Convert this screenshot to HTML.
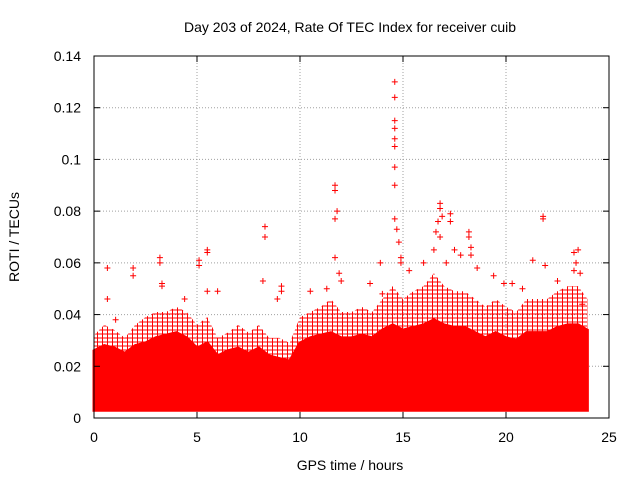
<!DOCTYPE html>
<html><head><meta charset="utf-8"><style>
body{margin:0;background:#fff;}
svg{display:block;font-family:"Liberation Sans",sans-serif;}
</style></head><body>
<svg id="chart" width="640" height="480">
<defs>
<pattern id="plus" width="5" height="4" patternUnits="userSpaceOnUse">
<path d="M0,2H5M2.5,0V4" stroke="#ff0000" stroke-width="1"/>
</pattern>
</defs>
<text x="350" y="32" font-size="14" text-anchor="middle">Day 203 of 2024, Rate Of TEC Index for receiver cuib</text>
<text x="350" y="470" font-size="14" text-anchor="middle">GPS time / hours</text>
<text x="19" y="237" font-size="14" text-anchor="middle" transform="rotate(-90 19 237)">ROTI / TECUs</text>
<g id="grid"></g><g id="marks"></g><g id="axes"></g>
</svg>
<script>
const xTicks=[0,5,10,15,20,25];
const yTicks=[0,0.02,0.04,0.06,0.08,0.1,0.12,0.14];
const yTickLabels=["0","0.02","0.04","0.06","0.08","0.1","0.12","0.14"];
const binHours=[0,0.5,1,1.5,2,2.5,3,3.5,4,4.5,5,5.5,6,6.5,7,7.5,8,8.5,9,9.5,10,10.5,11,11.5,12,12.5,13,13.5,14,14.5,15,15.5,16,16.5,17,17.5,18,18.5,19,19.5,20,20.5,21,21.5,22,22.5,23,23.5,23.95];
const coreTop=[0.026,0.028,0.027,0.025,0.028,0.029,0.031,0.032,0.033,0.031,0.027,0.029,0.024,0.026,0.027,0.025,0.027,0.024,0.023,0.022,0.029,0.031,0.032,0.033,0.031,0.031,0.032,0.031,0.034,0.036,0.034,0.035,0.036,0.038,0.036,0.035,0.035,0.033,0.031,0.033,0.031,0.030,0.033,0.033,0.033,0.035,0.036,0.036,0.034];
const envelopeTop=[0.032,0.036,0.034,0.031,0.036,0.039,0.041,0.041,0.043,0.041,0.036,0.039,0.031,0.033,0.036,0.033,0.036,0.031,0.031,0.029,0.039,0.041,0.043,0.046,0.041,0.041,0.043,0.041,0.046,0.051,0.046,0.049,0.051,0.056,0.051,0.049,0.049,0.046,0.043,0.046,0.043,0.041,0.046,0.046,0.046,0.049,0.051,0.051,0.046];
const bottomVal=0.003;
const outX=[0.65,0.65,1.05,1.9,1.9,3.2,3.2,3.3,3.3,4.4,5.1,5.1,5.5,5.5,5.5,6.0,8.3,8.3,8.2,9.1,9.1,8.9,10.5,11.3,11.7,11.7,11.8,11.7,11.7,11.9,14.0,14.6,14.6,14.6,14.6,14.6,14.6,14.6,14.6,14.6,14.7,14.8,14.9,13.4,13.9,16.5,16.8,16.8,16.9,16.7,16.6,16.8,17.3,17.3,17.5,17.8,18.2,18.2,18.3,18.3,18.6,19.9,20.3,20.8,21.3,21.8,21.8,21.9,22.5,23.3,23.5,23.4,23.3,23.6,23.7,12.0,14.9,15.3,16.0,17.1,19.4];
const outY=[0.058,0.046,0.038,0.058,0.055,0.062,0.06,0.052,0.051,0.046,0.061,0.059,0.065,0.064,0.049,0.049,0.074,0.07,0.053,0.051,0.049,0.046,0.049,0.05,0.09,0.088,0.08,0.077,0.062,0.056,0.048,0.13,0.124,0.115,0.112,0.108,0.105,0.097,0.09,0.077,0.073,0.068,0.062,0.052,0.06,0.065,0.083,0.081,0.078,0.076,0.072,0.07,0.079,0.076,0.065,0.063,0.072,0.07,0.066,0.063,0.058,0.052,0.052,0.05,0.061,0.078,0.077,0.059,0.053,0.064,0.065,0.06,0.057,0.056,0.044,0.053,0.06,0.057,0.06,0.06,0.055];
const X0=94,X1=609,Y0=418,Y1=56;
const sx=v=>X0+(v-0)/(25-0)*(X1-X0);
const sy=v=>Y0-(v-0)/(0.14-0)*(Y0-Y1);
const NS="http://www.w3.org/2000/svg";
function mk(t,a,p){const e=document.createElementNS(NS,t);for(const k in a)e.setAttribute(k,a[k]);p.appendChild(e);return e;}
const grid=document.getElementById('grid'),marks=document.getElementById('marks'),axes=document.getElementById('axes');
xTicks.forEach((t,i)=>{
 if(i>0&&i<xTicks.length-1){const g=mk('line',{x1:sx(t),x2:sx(t),y1:Y0,y2:Y1,stroke:'#a0a0a0','stroke-dasharray':'1,2'},grid);
 
 }
 const l=mk('text',{x:sx(t),y:Y0+24,'font-size':14,'text-anchor':'middle'},axes);l.textContent=t;
 
 
 mk('line',{x1:sx(t),x2:sx(t),y1:Y0,y2:Y0-6,stroke:'#000'},axes);
 mk('line',{x1:sx(t),x2:sx(t),y1:Y1,y2:Y1+6,stroke:'#000'},axes);
});
yTicks.forEach((t,i)=>{
 if(i>0&&i<yTicks.length-1){const g=mk('line',{x1:X0,x2:X1,y1:sy(t),y2:sy(t),stroke:'#a0a0a0','stroke-dasharray':'1,2'},grid);
 
 }
 const l=mk('text',{x:X0-13,y:sy(t)+5,'font-size':14,'text-anchor':'end'},axes);l.textContent=yTickLabels[i];
 
 
 mk('line',{x1:X0,x2:X0+6,y1:sy(t),y2:sy(t),stroke:'#000'},axes);
 mk('line',{x1:X1,x2:X1-6,y1:sy(t),y2:sy(t),stroke:'#000'},axes);
});
const frame=mk('rect',{x:X0,y:Y1,width:X1-X0,height:Y0-Y1,fill:'none',stroke:'#000'},axes);


function band(top,fill,sw,name){
 let d='M'+sx(binHours[0])+','+sy(bottomVal);
 binHours.forEach((h,i)=>{d+=' L'+sx(h)+','+sy(top[i]);});
 d+=' L'+sx(binHours[binHours.length-1])+','+sy(bottomVal)+' Z';
 const p=mk('path',{d:d,fill:fill,stroke:sw?'#ff0000':'none','stroke-width':sw},marks);
 
 
}
band(envelopeTop,'url(#plus)',0,'roti-scatter-envelope');
band(coreTop,'#ff0000',3,'roti-scatter-core');
outX.forEach((x,i)=>{
 const cx=sx(x),cy=sy(outY[i]);
 const p=mk('path',{d:`M${cx-3},${cy}H${cx+3}M${cx},${cy-3}V${cy+3}`,stroke:'#ff0000','stroke-width':1},marks);
 
 
});
</script>
</body></html>
